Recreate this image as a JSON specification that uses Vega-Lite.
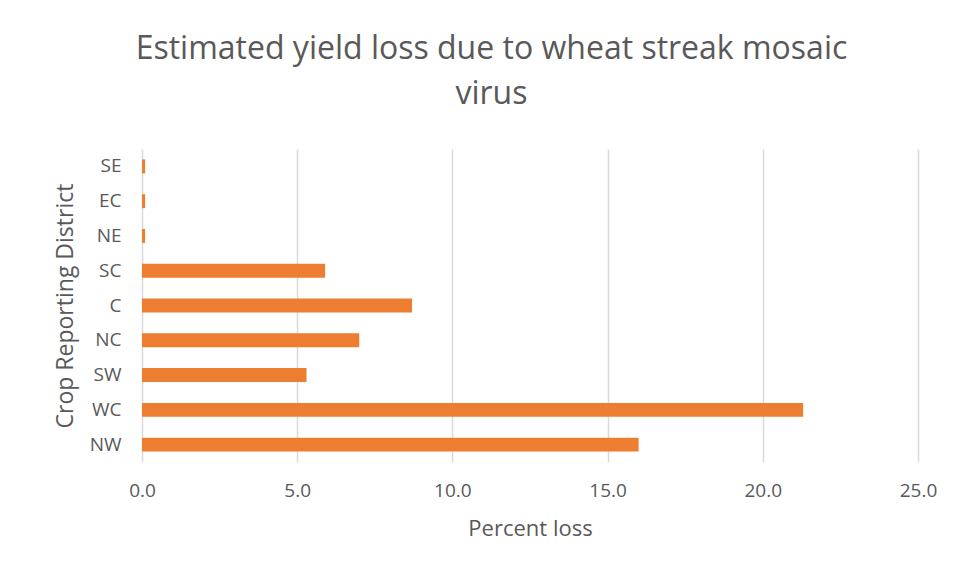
{
  "$schema": "https://vega.github.io/schema/vega-lite/v6.json",
  "autosize": "none",
  "width": 776,
  "height": 313,
  "padding": {"left": 142, "top": 149, "right": 41, "bottom": 114},
  "background": "white",
  "title": {
    "text": ["Estimated yield loss due to wheat streak mosaic", "virus"],
    "anchor": "middle",
    "frame": "bounds",
    "font": "Open Sans",
    "fontSize": 32,
    "fontWeight": "normal",
    "color": "#595959",
    "lineHeight": 45,
    "offset": 38,
    "dx": -4
  },
  "data": {
    "values": [
      {"district": "SE", "loss": 0.1},
      {"district": "EC", "loss": 0.1},
      {"district": "NE", "loss": 0.1},
      {"district": "SC", "loss": 5.9},
      {"district": "C", "loss": 8.7},
      {"district": "NC", "loss": 7.0},
      {"district": "SW", "loss": 5.3},
      {"district": "WC", "loss": 21.3},
      {"district": "NW", "loss": 16.0}
    ]
  },
  "mark": {"type": "bar", "color": "#ED7D31"},
  "encoding": {
    "y": {
      "field": "district",
      "type": "nominal",
      "sort": null,
      "scale": {"paddingInner": 0.6, "paddingOuter": 0.3},
      "axis": {
        "title": "Crop Reporting District",
        "titleFont": "Open Sans",
        "titleFontSize": 23,
        "titleFontWeight": "normal",
        "titleColor": "#595959",
        "titlePadding": 12,
        "labelFont": "Open Sans",
        "labelFontSize": 19,
        "labelColor": "#595959",
        "labelPadding": 21,
        "ticks": false,
        "domain": false,
        "grid": false
      }
    },
    "x": {
      "field": "loss",
      "type": "quantitative",
      "scale": {"domain": [0, 25], "nice": false},
      "axis": {
        "values": [0, 5, 10, 15, 20, 25],
        "format": ".1f",
        "labelFlush": false,
        "title": "Percent loss",
        "titleFont": "Open Sans",
        "titleFontSize": 22,
        "titleFontWeight": "normal",
        "titleColor": "#595959",
        "titlePadding": 18,
        "labelFont": "Open Sans",
        "labelFontSize": 19,
        "labelColor": "#595959",
        "labelPadding": 19,
        "ticks": false,
        "domain": false,
        "grid": true,
        "gridColor": "#d9d9d9",
        "gridWidth": 1.5
      }
    }
  },
  "config": {"view": {"stroke": null}}
}
